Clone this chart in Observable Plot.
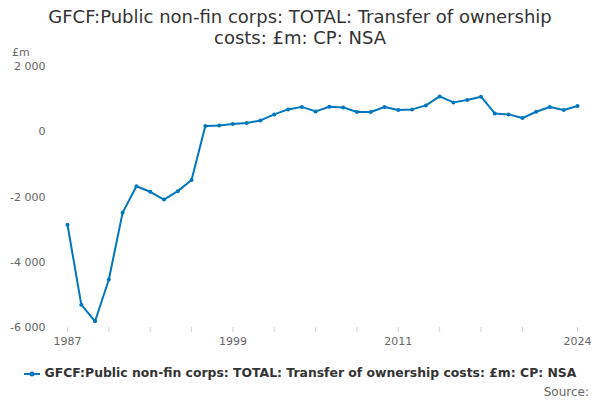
<!DOCTYPE html>
<html>
<head>
<meta charset="utf-8">
<script src="https://cdn.jsdelivr.net/npm/d3@7"></script>
<script src="https://cdn.jsdelivr.net/npm/@observablehq/plot@0.6"></script>
<style>
  html, body { margin: 0; padding: 0; background: #fff; }
  body { width: 600px; height: 400px; position: relative; overflow: hidden; font-family: "DejaVu Sans", sans-serif; }
  #title { position: absolute; top: 6px; left: 0; width: 600px; text-align: center; font-size: 18px; line-height: 21px; color: #333; }
  #unit { position: absolute; top: 46px; left: 12px; font-size: 11px; color: #666; }
  #chart { position: absolute; top: 50px; left: 0; }
  #legend { position: absolute; top: 365px; left: 0; width: 600px; text-align: center; font-size: 12.4px; font-weight: bold; color: #333; }
  #legend svg { vertical-align: middle; margin-right: 5px; }
  #source { position: absolute; top: 385px; right: 11px; font-size: 12px; color: #666; }
</style>
</head>
<body>
<div id="title">GFCF:Public non-fin corps: TOTAL: Transfer of ownership<br>costs: £m: CP: NSA</div>
<div id="unit">£m</div>
<div id="chart"></div>
<div id="legend"><svg width="16" height="10"><line x1="0" y1="5" x2="16" y2="5" stroke="#0076be" stroke-width="2"/><circle cx="8" cy="5" r="2.5" fill="#0076be"/></svg>GFCF:Public non-fin corps: TOTAL: Transfer of ownership costs: £m: CP: NSA</div>
<div id="source">Source:</div>
<script>
const years = d3.range(1987, 2025);
const values = [
  -2850, -5300, -5810, -4530, -2480, -1670, -1840, -2080, -1820, -1480,
  174, 194, 235, 266, 348, 532, 685, 762,
  624, 767, 747, 604, 604, 757, 665, 685, 808, 1084,
  900, 972, 1074, 563, 532, 419, 614, 757, 665, 788
];
const yTicks = [-6000, -4000, -2000, 0, 2000];
const xTickMarks = [1987, 1990, 1993, 1996, 1999, 2002, 2005, 2008, 2011, 2014, 2017, 2020, 2024];
const xTickLabels = [1987, 1999, 2011, 2024];

const data = years.map((y, i) => ({year: y, value: values[i]}));
const fmt = d => (d < 0 ? "-" : "") + d3.format(",")(Math.abs(d)).replace(/,/g, " ");
const color = "#0076be";

const chart = Plot.plot({
  width: 600,
  height: 300,
  marginTop: 16,
  marginBottom: 23,
  marginLeft: 61,
  marginRight: 16,
  style: {fontFamily: "DejaVu Sans, sans-serif", fontSize: "11px", color: "#666", background: "transparent"},
  x: {domain: [1987, 2024], insetLeft: 6, insetRight: 7},
  y: {domain: [-6000, 2000]},
  marks: [
    Plot.gridY(yTicks.filter(d => d !== -6000), {stroke: "#e6e6e6", strokeOpacity: 1, strokeWidth: 1, x1: 61, x2: 584}),
    Plot.ruleY([-6000], {stroke: "#ccd6eb", strokeWidth: 1, x1: 61, x2: 584}),
    Plot.axisY(yTicks, {tickFormat: fmt, tickSize: 0, tickPadding: 16, fill: "#666", fontSize: 11, label: null}),
    Plot.axisX(xTickMarks, {tickFormat: d => xTickLabels.includes(d) ? String(d) : "", tickSize: 5, tickPadding: 5, stroke: "#ccd6eb", strokeOpacity: 1, fill: "#666", fontSize: 11, label: null}),
    Plot.line(data, {x: "year", y: "value", stroke: color, strokeWidth: 2}),
    Plot.dot(data, {x: "year", y: "value", fill: color, r: 2})
  ]
});
document.getElementById("chart").appendChild(chart);
</script>
</body>
</html>
